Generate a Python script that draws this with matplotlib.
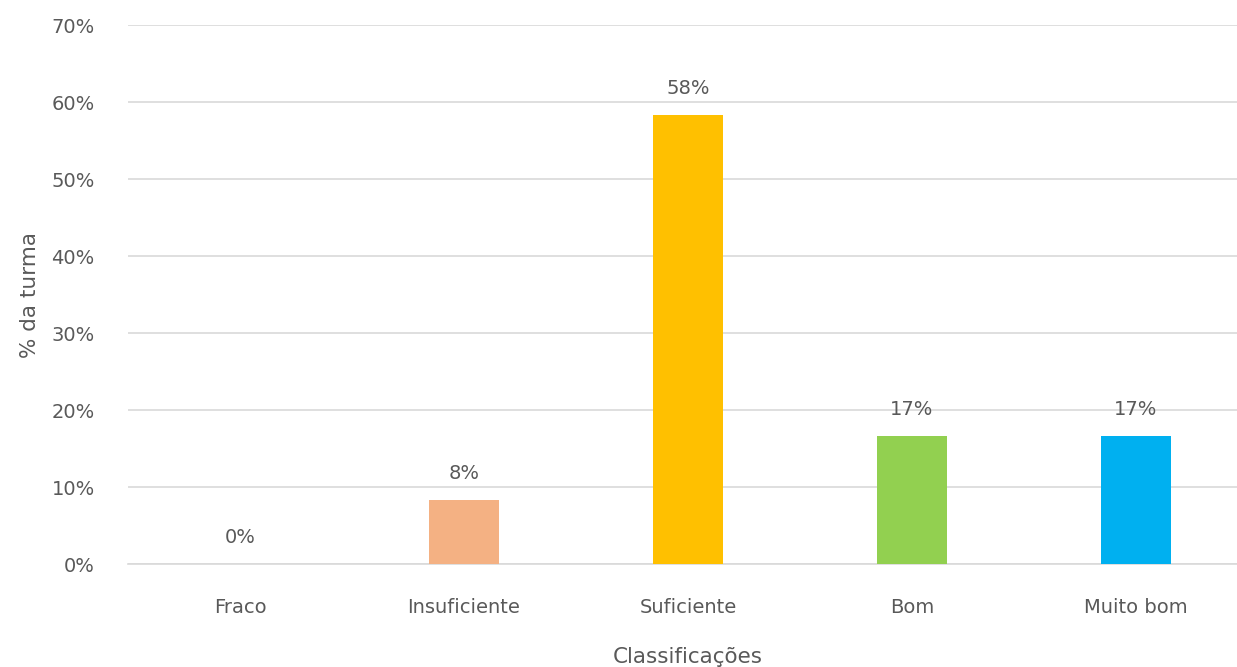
import matplotlib.pyplot as plt
from matplotlib.ticker import PercentFormatter

# dados
categorias = ['Fraco', 'Insuficiente', 'Suficiente', 'Bom', 'Muito bom']
percentagens = [0, 8.33, 58.33, 16.67, 16.67]
rotulos = ['0%', '8%', '58%', '17%', '17%']
cores = ['#FF0000', '#F4B183', '#FFC000', '#92D050', '#00B0F0']

plt.rcParams['font.family'] = ['DejaVu Sans']
cinza = '#595959'

fig = plt.figure(figsize=(12.37, 6.67), dpi=100)
ax = fig.add_axes([0.1035, 0.154, 0.9054, 0.8085])

x = range(len(categorias))
ax.bar(x, percentagens, width=0.31, color=cores, zorder=3)
for i, (v, r) in enumerate(zip(percentagens, rotulos)):
    ax.text(i, v + 2.2, r, ha='center', va='bottom', fontsize=14, color=cinza)

ax.set_xlim(-0.5, 4.5)
ax.set_ylim(0, 70)
ax.set_yticks(range(0, 71, 10))
ax.yaxis.set_major_formatter(PercentFormatter(decimals=0))
ax.set_xticks(list(x))
ax.set_xticklabels(categorias)
ax.grid(axis='y', color='#D9D9D9', linewidth=1.2, zorder=0)
for s in ['top', 'right', 'left']:
    ax.spines[s].set_visible(False)
ax.spines['bottom'].set_color('#D9D9D9')
ax.spines['bottom'].set_linewidth(1.2)
ax.tick_params(axis='both', length=0, labelsize=14, colors=cinza)
ax.tick_params(axis='x', pad=24)
ax.tick_params(axis='y', pad=24)

ax.set_xlabel('Classificações', fontsize=15.5, color=cinza, labelpad=22)
ax.set_ylabel('% da turma', fontsize=15.5, color=cinza, labelpad=8)

fig.savefig('out.png', dpi=100)
